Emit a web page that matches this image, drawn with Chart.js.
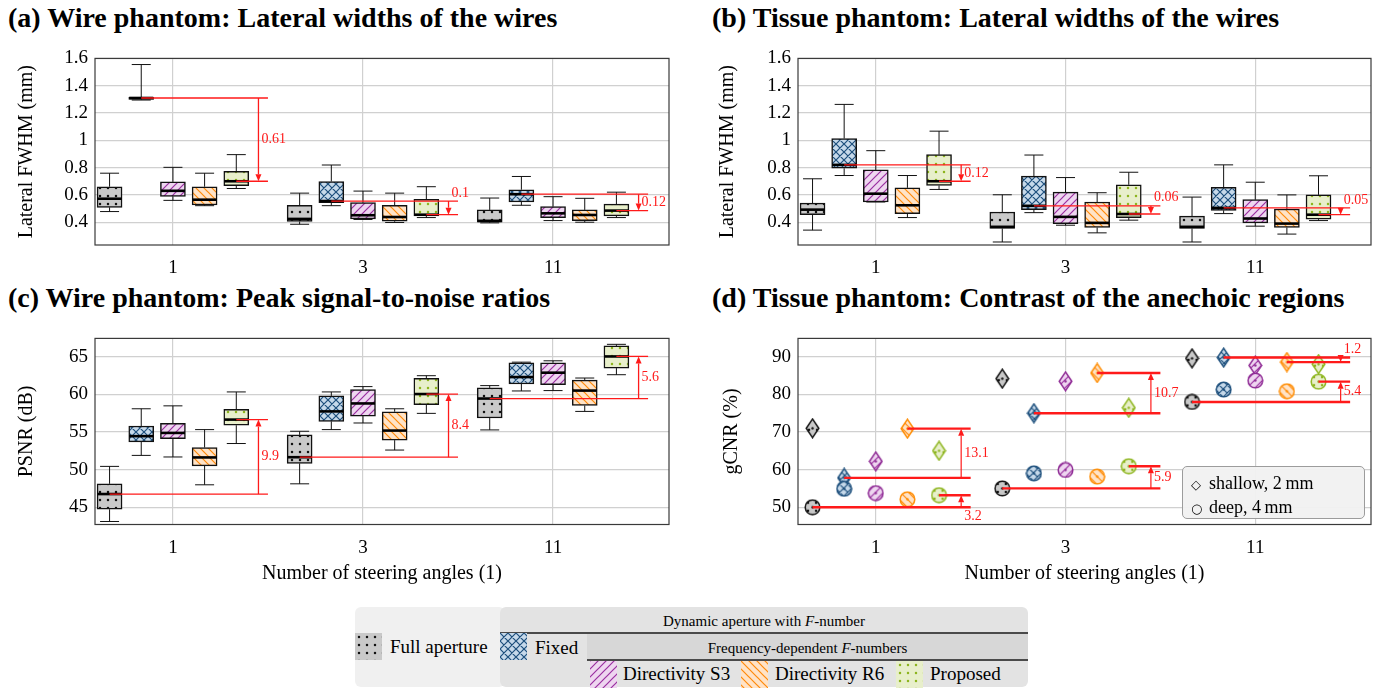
<!DOCTYPE html>
<html>
<head>
<meta charset="utf-8">
<title>Steering angles and F-number comparison</title>
<script src="https://cdn.jsdelivr.net/npm/chart.js@4.4.1/dist/chart.umd.min.js"></script>
<style>
  html, body { margin: 0; padding: 0; background: #fff; }
  body { position: relative; width: 1391px; height: 690px; overflow: hidden;
         font-family: "Liberation Serif", "Times New Roman", serif; color: #000; }
  .panel-title { position: absolute; font-weight: bold; font-size: 28px; line-height: 28px; white-space: nowrap; }
  canvas.plot { position: absolute; }
  .lg { position: absolute; }
  .lg-text { position: absolute; white-space: nowrap; line-height: 1; }
  .patch { position: absolute; }
  .key { position: absolute; left: 1182px; top: 466px; width: 183px; height: 53px; box-sizing: border-box;
         background: rgba(241,241,241,0.96); border: 1px solid #9c9c9c; border-radius: 5px; }
  .key div { position: absolute; left: 8px; font-size: 18px; line-height: 18px; white-space: nowrap; }
  .key span.sym { display: inline-block; width: 18px; font-family: "DejaVu Sans", sans-serif; font-size: 13px; }
</style>
</head>
<body>
<div class="panel-title" style="left:8px;top:4px">(a) Wire phantom: Lateral widths of the wires</div>
<div class="panel-title" style="left:712px;top:4px">(b) Tissue phantom: Lateral widths of the wires</div>
<div class="panel-title" style="left:8px;top:284px">(c) Wire phantom: Peak signal-to-noise ratios</div>
<div class="panel-title" style="left:712px;top:284px">(d) Tissue phantom: Contrast of the anechoic regions</div>

<canvas id="chartA" class="plot" width="690" height="260" style="left:0;top:40px"></canvas>
<canvas id="chartB" class="plot" width="691" height="260" style="left:700px;top:40px"></canvas>
<canvas id="chartC" class="plot" width="690" height="270" style="left:0;top:320px"></canvas>
<canvas id="chartD" class="plot" width="691" height="270" style="left:700px;top:320px"></canvas>

<div class="key">
  <div style="top:7px"><span class="sym">&#9671;</span>shallow, 2&#8201;mm</div>
  <div style="top:31px"><span class="sym">&#9675;</span>deep, 4&#8201;mm</div>
</div>

<!-- method legend -->
<div class="lg" style="left:355px;top:607px;width:150px;height:80px;background:#f0f0f0;border-radius:6px"></div>
<div class="lg" style="left:500px;top:607px;width:528px;height:80px;background:#e3e3e3;border-radius:6px"></div>
<div class="lg" style="left:587px;top:634px;width:441px;height:26px;background:#d7d7d7"></div>
<div class="lg" style="left:500px;top:632px;width:528px;height:1.5px;background:#4a4a4a"></div>
<div class="lg" style="left:587px;top:659px;width:441px;height:1.5px;background:#4a4a4a"></div>
<div class="lg-text" style="left:500px;width:528px;top:614px;text-align:center;font-size:15px">Dynamic aperture with <i>F</i>-number</div>
<div class="lg-text" style="left:587px;width:441px;top:641px;text-align:center;font-size:15px">Frequency-dependent <i>F</i>-numbers</div>
<canvas class="patch" data-method="0" width="27" height="27" style="left:355px;top:633px"></canvas>
<div class="lg-text" style="left:390px;top:637px;font-size:19px">Full aperture</div>
<canvas class="patch" data-method="1" width="27" height="27" style="left:500px;top:633px"></canvas>
<div class="lg-text" style="left:535px;top:638px;font-size:19px">Fixed</div>
<canvas class="patch" data-method="2" width="27" height="27" style="left:590px;top:661px"></canvas>
<div class="lg-text" style="left:623px;top:664px;font-size:19px">Directivity S3</div>
<canvas class="patch" data-method="3" width="27" height="27" style="left:741px;top:661px"></canvas>
<div class="lg-text" style="left:775px;top:664px;font-size:19px">Directivity R6</div>
<canvas class="patch" data-method="4" width="27" height="27" style="left:896px;top:661px"></canvas>
<div class="lg-text" style="left:930px;top:664px;font-size:19px">Proposed</div>

<script>
// Steering settings on the horizontal axis and the compared receive apertures
const steeringAngles = ['1', '3', '11'];
const methodNames = ['Full aperture', 'Fixed', 'Directivity S3', 'Directivity R6', 'Proposed'];

// (a) Wire phantom, lateral FWHM (mm): [lower whisker, Q1, median, Q3, upper whisker] for 1, 3, 11 angles
const wireFwhmFull     = [[0.478, 0.509, 0.572, 0.660, 0.759], [0.385, 0.405, 0.424, 0.524, 0.613], [0.395, 0.400, 0.410, 0.490, 0.577]];
const wireFwhmFixed    = [[1.295, 1.300, 1.310, 1.315, 1.555], [0.521, 0.543, 0.555, 0.698, 0.819], [0.524, 0.548, 0.605, 0.638, 0.735]];
const wireFwhmS3       = [[0.560, 0.589, 0.630, 0.696, 0.802], [0.420, 0.424, 0.451, 0.543, 0.628], [0.412, 0.434, 0.465, 0.514, 0.587]];
const wireFwhmR6       = [[0.521, 0.526, 0.565, 0.660, 0.759], [0.398, 0.407, 0.438, 0.524, 0.613], [0.400, 0.412, 0.453, 0.490, 0.575]];
const wireFwhmProposed = [[0.647, 0.667, 0.700, 0.773, 0.895], [0.434, 0.446, 0.455, 0.567, 0.660], [0.434, 0.446, 0.485, 0.533, 0.620]];

// (b) Tissue phantom, lateral FWHM (mm)
const tissueFwhmFull     = [[0.342, 0.456, 0.492, 0.540, 0.718], [0.255, 0.354, 0.366, 0.475, 0.601], [0.255, 0.354, 0.366, 0.444, 0.584]];
const tissueFwhmFixed    = [[0.742, 0.795, 0.820, 1.013, 1.263], [0.470, 0.492, 0.520, 0.737, 0.892], [0.463, 0.487, 0.505, 0.655, 0.820]];
const tissueFwhmS3       = [[0.548, 0.548, 0.609, 0.783, 0.924], [0.378, 0.390, 0.439, 0.620, 0.727], [0.371, 0.395, 0.427, 0.565, 0.693]];
const tissueFwhmR6       = [[0.434, 0.463, 0.524, 0.652, 0.742], [0.322, 0.361, 0.395, 0.548, 0.616], [0.313, 0.361, 0.390, 0.497, 0.600]];
const tissueFwhmProposed = [[0.640, 0.669, 0.700, 0.895, 1.067], [0.415, 0.434, 0.460, 0.674, 0.766], [0.412, 0.422, 0.455, 0.600, 0.740]];

// (c) Wire phantom, PSNR (dB)
const wirePsnrFull     = [[43.10, 44.73, 46.75, 48.11, 50.43], [48.11, 50.83, 51.65, 54.62, 55.10], [55.28, 56.86, 59.45, 60.86, 61.17]];
const wirePsnrFixed    = [[51.89, 53.69, 54.45, 55.80, 58.09], [55.32, 56.42, 57.74, 59.80, 60.33], [60.46, 61.39, 62.31, 64.21, 64.29]];
const wirePsnrS3       = [[51.68, 54.13, 54.88, 56.16, 58.48], [56.20, 57.12, 58.80, 60.65, 61.04], [60.51, 61.31, 62.89, 64.21, 64.47]];
const wirePsnrR6       = [[47.98, 50.49, 51.62, 52.94, 55.32], [52.60, 53.92, 55.19, 57.70, 58.09], [57.74, 58.53, 60.51, 61.91, 62.18]];
const wirePsnrProposed = [[53.47, 55.90, 56.65, 58.01, 60.33], [57.48, 58.62, 60.05, 62.14, 62.49], [62.62, 63.50, 65.05, 66.45, 66.66]];

// (d) Tissue phantom, gCNR (%) of the anechoic regions, one row per method
const gcnrShallow = [
  [71.0, 84.2, 89.6],
  [57.8, 75.0, 89.8],
  [62.2, 83.5, 87.7],
  [70.9, 85.7, 88.6],
  [65.0, 76.45, 88.05],
];
const gcnrDeep = [
  [50.0, 55.0, 78.0],
  [54.9, 59.0, 81.3],
  [53.75, 59.9, 83.7],
  [52.1, 58.15, 80.85],
  [53.2, 60.9, 83.4],
];

// Tick values of the value axes
const fwhmTicks = [0.4, 0.6, 0.8, 1, 1.2, 1.4, 1.6];
const psnrTicks = [45, 50, 55, 60, 65];
const gcnrTicks = [50, 60, 70, 80, 90];

// Differences marked with red arrows: [steering index, reference method, compared method]
const wireFwhmGaps    = [[0, 1, 4], [1, 1, 4], [2, 1, 4]];
const tissueFwhmGaps  = [[0, 1, 4], [1, 1, 4], [2, 1, 4]];
const wirePsnrGaps    = [[0, 0, 4], [1, 0, 4], [2, 0, 4]];
const gcnrShallowGaps = [[0, 1, 3], [1, 1, 3], [2, 1, 3]];
const gcnrDeepGaps    = [[0, 0, 4], [1, 0, 4], [2, 0, 4]];

// ---------------------------------------------------------------------------
Chart.defaults.font.family = '"Liberation Serif", "Times New Roman", serif';
Chart.defaults.color = '#000';

const methodStyles = [
  { bg: '#c9c9c9', ink: '#111111', kind: 'dots',  edge: '#111111' },
  { bg: '#c6d9ea', ink: '#1d4f7c', kind: 'cross', edge: '#1d4f7c' },
  { bg: '#eed6f0', ink: '#9a2fa0', kind: 'ne',    edge: '#8e2a94' },
  { bg: '#ffe3c7', ink: '#ff8a0a', kind: 'nw',    edge: '#ff8c00' },
  { bg: '#e8efcb', ink: '#8db51e', kind: 'dots',  edge: '#8db51e' },
];

function makeTile(st) {
  const s = 8;
  const c = document.createElement('canvas');
  c.width = s; c.height = s;
  const g = c.getContext('2d');
  g.fillStyle = st.bg; g.fillRect(0, 0, s, s);
  g.strokeStyle = st.ink; g.fillStyle = st.ink; g.lineWidth = 1.2;
  if (st.kind === 'dots') {
    g.beginPath(); g.arc(s / 2, s / 2, 1.25, 0, 2 * Math.PI); g.fill();
  } else {
    const segs = [];
    if (st.kind === 'ne' || st.kind === 'cross') segs.push([-1, 1, 1, -1], [0, s, s, 0], [s - 1, s + 1, s + 1, s - 1]);
    if (st.kind === 'nw' || st.kind === 'cross') segs.push([-1, s - 1, 1, s + 1], [0, 0, s, s], [s - 1, -1, s + 1, 1]);
    g.beginPath();
    segs.forEach(([x0, y0, x1, y1]) => { g.moveTo(x0, y0); g.lineTo(x1, y1); });
    g.stroke();
  }
  return c;
}
const fillPatterns = methodStyles.map(st => {
  const t = makeTile(st);
  return t.getContext('2d').createPattern(t, 'repeat');
});

// legend swatches
document.querySelectorAll('canvas.patch').forEach(cv => {
  const g = cv.getContext('2d');
  g.fillStyle = fillPatterns[+cv.dataset.method];
  g.fillRect(0, 0, cv.width, cv.height);
});

// marker glyphs for panel (d)
function markerImage(m, shape) {
  const st = methodStyles[m];
  const w = shape === 'diamond' ? 15 : 17, h = shape === 'diamond' ? 21 : 17;
  const c = document.createElement('canvas');
  c.width = w; c.height = h;
  const g = c.getContext('2d');
  g.beginPath();
  if (shape === 'diamond') {
    g.moveTo(w / 2, 1.2); g.lineTo(w - 1.2, h / 2); g.lineTo(w / 2, h - 1.2); g.lineTo(1.2, h / 2); g.closePath();
  } else {
    g.arc(w / 2, h / 2, w / 2 - 1.2, 0, 2 * Math.PI);
  }
  g.fillStyle = fillPatterns[m]; g.fill();
  g.lineWidth = 1.5; g.strokeStyle = st.edge; g.stroke();
  g.beginPath(); g.arc(w / 2, h / 2, 1.2, 0, 2 * Math.PI);
  g.fillStyle = st.edge; g.fill();
  return c;
}

const slot = m => (m - 2) / 6;   // horizontal place of a method inside its steering group

// plot frame
const framePlugin = {
  id: 'frame',
  beforeDatasetsDraw(chart) {
    const { ctx, chartArea: a } = chart;
    ctx.save();
    ctx.strokeStyle = '#3a3a3a'; ctx.lineWidth = 1.2;
    ctx.strokeRect(a.left, a.top, a.right - a.left, a.bottom - a.top);
    ctx.restore();
  }
};

// whiskers and medians on top of the floating-bar boxes
const whiskerPlugin = {
  id: 'whiskers',
  afterDatasetsDraw(chart) {
    const { ctx, scales: { y } } = chart;
    ctx.save();
    chart.data.datasets.forEach((ds, di) => {
      if (!ds.stats) return;
      const meta = chart.getDatasetMeta(di);
      ds.stats.forEach((s, g) => {
        const bar = meta.data[g];
        const cx = bar.x, half = bar.width / 2;
        const [lo, q1, med, q3, hi] = s.map(v => y.getPixelForValue(v));
        ctx.strokeStyle = '#111'; ctx.lineWidth = 1;
        ctx.beginPath();
        ctx.moveTo(cx, q3); ctx.lineTo(cx, hi);
        ctx.moveTo(cx - 9.5, hi); ctx.lineTo(cx + 9.5, hi);
        ctx.moveTo(cx, q1); ctx.lineTo(cx, lo);
        ctx.moveTo(cx - 9.5, lo); ctx.lineTo(cx + 9.5, lo);
        ctx.stroke();
        ctx.lineWidth = 2.6; ctx.strokeStyle = '#000';
        ctx.beginPath(); ctx.moveTo(cx - half + 0.5, med); ctx.lineTo(cx + half - 0.5, med); ctx.stroke();
      });
    });
    ctx.restore();
  }
};

// red difference arrows
function gapPlugin(items, style) {
  return {
    id: 'gapArrows',
    afterDatasetsDraw(chart) {
      const { ctx, scales: { x, y } } = chart;
      ctx.save();
      ctx.strokeStyle = '#ff1a1a'; ctx.fillStyle = '#ff1a1a';
      items.forEach(it => {
        const xEnd = x.getPixelForValue(it.g + 0.5);
        const xArr = x.getPixelForValue(it.g + 0.45);
        const yA = y.getPixelForValue(it.vFrom), yB = y.getPixelForValue(it.vTo);
        ctx.lineWidth = style.hWidth;
        ctx.beginPath();
        ctx.moveTo(x.getPixelForValue(it.xFrom), yA); ctx.lineTo(xEnd, yA);
        ctx.moveTo(x.getPixelForValue(it.xTo), yB); ctx.lineTo(xEnd, yB);
        ctx.stroke();
        const dir = Math.sign(yB - yA), head = 7;
        ctx.lineWidth = style.vWidth;
        ctx.beginPath(); ctx.moveTo(xArr, yA); ctx.lineTo(xArr, yB - dir * head); ctx.stroke();
        ctx.beginPath();
        ctx.moveTo(xArr, yB); ctx.lineTo(xArr - 3, yB - dir * head); ctx.lineTo(xArr + 3, yB - dir * head);
        ctx.closePath(); ctx.fill();
        const diff = Math.abs(it.vTo - it.vFrom);
        const text = style.digits === 2 ? String(parseFloat(diff.toFixed(2))) : diff.toFixed(1);
        ctx.font = '14px "Liberation Serif", "Times New Roman", serif';
        ctx.textAlign = 'left'; ctx.textBaseline = 'middle';
        let ty = (yA + yB) / 2;
        if (it.place === 'above') ty = Math.min(yA, yB) - 8;
        if (it.place === 'below') ty = Math.max(yA, yB) + 9;
        ctx.fillText(text, xArr + 3, ty);
      });
      ctx.restore();
    }
  };
}

const gridStyle = { color: '#d0d0d0', lineWidth: 1.2, drawTicks: false, offset: false };

function steeringAxis(geom, title) {
  return {
    type: 'linear', min: -0.41, max: 2.61, offset: false,
    afterBuildTicks: s => { s.ticks = steeringAngles.map((_, i) => ({ value: i })); },
    afterFit: s => { s.height = geom.xHeight; },
    ticks: { callback: v => steeringAngles[v], font: { size: 19 }, padding: 12, color: '#000', maxRotation: 0, autoSkip: false },
    grid: gridStyle,
    border: { display: false },
    title: title
      ? { display: true, text: title, font: { size: 20 }, color: '#000', padding: { top: 0, bottom: 4 } }
      : { display: false },
  };
}

function valueAxis(geom, min, max, ticks, title) {
  return {
    type: 'linear', min, max,
    afterBuildTicks: s => { s.ticks = ticks.map(v => ({ value: v })); },
    afterFit: s => { s.width = geom.yWidth; },
    ticks: { callback: v => String(v), font: { size: 19 }, padding: 7, color: '#000' },
    grid: gridStyle,
    border: { display: false },
    title: { display: true, text: title, font: { size: 20 }, color: '#000', padding: { top: geom.yTitlePad, bottom: 0 } },
  };
}

function baseOptions(geom) {
  return {
    responsive: false, animation: false, events: [],
    layout: { padding: { left: 0, top: geom.padTop, right: geom.padRight, bottom: 0 } },
    plugins: { legend: { display: false }, tooltip: { enabled: false } },
  };
}

function boxPanel(id, geom, series, yMin, yMax, ticks, yTitle, xTitle, gaps, places, digits) {
  const items = gaps.map(([g, a, b], i) => ({
    g, xFrom: g + slot(a), vFrom: series[a][g][2], xTo: g + slot(b), vTo: series[b][g][2], place: places[i],
  }));
  const opts = baseOptions(geom);
  opts.scales = { x: steeringAxis(geom, xTitle), y: valueAxis(geom, yMin, yMax, ticks, yTitle) };
  return new Chart(document.getElementById(id), {
    type: 'bar',
    data: {
      datasets: series.map((stats, m) => ({
        label: methodNames[m],
        stats,
        data: stats.map((s, g) => ({ x: g + slot(m), y: [s[1], s[3]] })),
        backgroundColor: fillPatterns[m],
        borderColor: '#111', borderWidth: 1.5, borderSkipped: false,
        barThickness: 25, grouped: false,
      })),
    },
    options: opts,
    plugins: [framePlugin, whiskerPlugin, gapPlugin(items, { hWidth: 1.3, vWidth: 1.3, digits })],
  });
}

const geomTop = { padTop: 17, padRight: 21, yWidth: 95, xHeight: 55, yTitlePad: 15 };
const geomTopR = { padTop: 17, padRight: 20, yWidth: 98, xHeight: 55, yTitlePad: 16 };
const geomBot = { padTop: 17, padRight: 21, yWidth: 95, xHeight: 65.5, yTitlePad: 15 };
const geomBotR = { padTop: 17, padRight: 20, yWidth: 98, xHeight: 65.5, yTitlePad: 20 };

boxPanel('chartA', geomTop,
  [wireFwhmFull, wireFwhmFixed, wireFwhmS3, wireFwhmR6, wireFwhmProposed],
  0.233, 1.6, fwhmTicks, 'Lateral FWHM (mm)', null, wireFwhmGaps, ['mid', 'above', 'mid'], 2);

boxPanel('chartB', geomTopR,
  [tissueFwhmFull, tissueFwhmFixed, tissueFwhmS3, tissueFwhmR6, tissueFwhmProposed],
  0.233, 1.6, fwhmTicks, 'Lateral FWHM (mm)', null, tissueFwhmGaps, ['mid', 'above', 'above'], 2);

boxPanel('chartC', geomBot,
  [wirePsnrFull, wirePsnrFixed, wirePsnrS3, wirePsnrR6, wirePsnrProposed],
  42.7, 67.45, psnrTicks, 'PSNR (dB)', 'Number of steering angles (1)', wirePsnrGaps, ['mid', 'mid', 'mid'], 1);

// (d) gCNR scatter
(function () {
  const geom = geomBotR;
  const shallowPlaces = ['mid', 'mid', 'above'];
  const deepPlaces = ['below', 'mid', 'mid'];
  const items = [
    ...gcnrShallowGaps.map(([g, a, b], i) => ({ g, xFrom: g + slot(a), vFrom: gcnrShallow[a][g], xTo: g + slot(b), vTo: gcnrShallow[b][g], place: shallowPlaces[i] })),
    ...gcnrDeepGaps.map(([g, a, b], i) => ({ g, xFrom: g + slot(a), vFrom: gcnrDeep[a][g], xTo: g + slot(b), vTo: gcnrDeep[b][g], place: deepPlaces[i] })),
  ];
  const opts = baseOptions(geom);
  opts.scales = { x: steeringAxis(geom, 'Number of steering angles (1)'), y: valueAxis(geom, 45.4, 94.9, gcnrTicks, 'gCNR (%)') };
  new Chart(document.getElementById('chartD'), {
    type: 'scatter',
    data: {
      datasets: methodNames.map((name, m) => {
        const dia = markerImage(m, 'diamond'), circ = markerImage(m, 'circle');
        return {
          label: name,
          data: [
            ...gcnrShallow[m].map((v, g) => ({ x: g + slot(m), y: v })),
            ...gcnrDeep[m].map((v, g) => ({ x: g + slot(m), y: v })),
          ],
          pointStyle: [dia, dia, dia, circ, circ, circ],
          pointRadius: 8,
        };
      }),
    },
    options: opts,
    plugins: [framePlugin, gapPlugin(items, { hWidth: 2.4, vWidth: 1.2, digits: 1 })],
  });
})();
</script>
</body>
</html>
